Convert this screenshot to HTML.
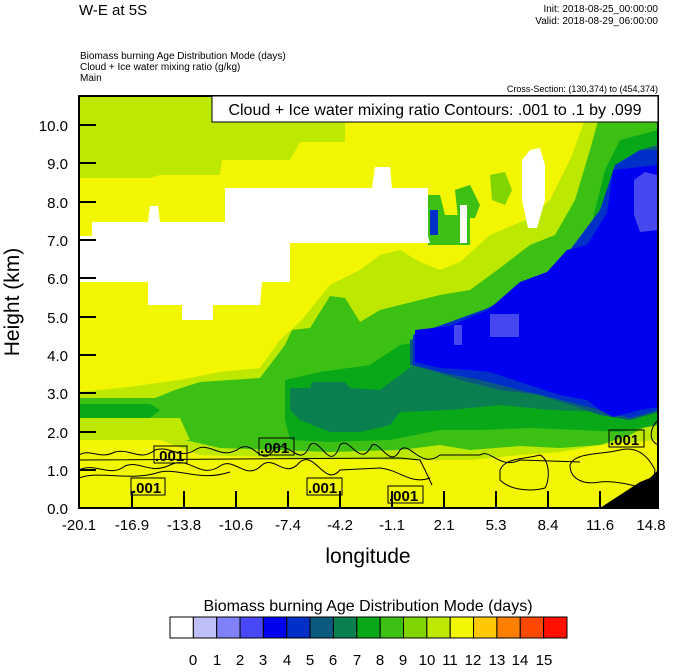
<!DOCTYPE html>
<html><head><meta charset="utf-8"><style>
body{margin:0;background:#fff;}
svg text{font-family:"Liberation Sans",Arial,sans-serif;}
</style></head><body>
<svg width="674" height="667" viewBox="0 0 674 667" xmlns="http://www.w3.org/2000/svg">
<rect width="674" height="667" fill="#fff"/>
<text x="79" y="15" font-size="15">W-E at 5S</text>
<text x="658" y="12" font-size="10" text-anchor="end">Init: 2018-08-25_00:00:00</text>
<text x="658" y="24" font-size="10" text-anchor="end">Valid: 2018-08-29_06:00:00</text>
<text x="80" y="59" font-size="10">Biomass burning Age Distribution Mode    (days)</text>
<text x="80" y="70" font-size="10">Cloud + Ice water mixing ratio    (g/kg)</text>
<text x="80" y="81" font-size="10">Main</text>
<text x="658" y="92" font-size="9" text-anchor="end">Cross-Section: (130,374) to (454,374)</text>

<defs><clipPath id="c"><rect x="79" y="96" width="579" height="412"/></clipPath></defs>
<g clip-path="url(#c)">
<rect x="79" y="96" width="579" height="412" fill="#f2f600"/>
<polygon fill="#bde800" points="79,96 345,96 345,142 300,142 290,160 222,160 220,175 160,175 150,178 79,178"/>
<polygon fill="#bde800" points="79,392 120,388 180,380 220,372 260,368 280,340 300,322 330,285 360,270 380,255 400,250 420,262 440,270 460,262 490,235 530,218 550,200 570,160 585,120 590,96 658,96 658,440 600,445 560,452 520,455 470,460 400,460 300,458 200,455 160,440 79,440"/>
<polygon fill="#3cc014" points="79,398 155,398 175,390 200,382 260,378 285,345 292,330 310,328 330,296 345,298 360,322 380,310 400,305 420,300 440,295 470,290 500,268 530,245 555,235 575,200 590,150 605,96 658,96 658,420 630,435 600,445 560,448 520,446 470,450 440,445 400,450 330,452 220,448 185,440 79,432"/>
<polygon fill="#bde800" points="79,418 180,418 190,440 79,440"/>
<polygon fill="#08a818" points="79,404 150,404 160,410 150,418 79,418"/>
<polygon fill="#08a818" points="285,380 320,372 370,365 400,345 430,340 460,325 500,305 540,290 570,265 590,230 605,170 620,140 658,130 658,425 620,432 580,430 530,428 480,430 440,430 390,440 330,442 290,440 285,420"/>
<polygon fill="#0a8050" points="290,388 310,388 312,382 345,382 350,388 380,390 400,375 420,360 440,350 470,335 510,320 560,300 600,300 658,310 658,400 600,412 550,410 500,405 450,410 400,412 390,425 360,432 330,432 300,420 290,410"/>
<polygon fill="#0a5a80" points="410,340 440,330 480,315 520,295 550,280 575,255 600,215 615,170 640,150 658,145 658,412 630,420 600,415 580,408 540,395 500,390 460,380 430,370 410,365"/>
<polygon fill="#0030c8" points="413,335 450,322 488,308 520,290 548,275 570,250 600,210 615,165 640,150 658,150 658,410 630,418 600,410 570,402 520,390 480,380 440,372 413,365"/>
<polygon fill="#0000f0" points="415,330 450,326 488,310 520,282 547,272 567,250 587,245 607,213 613,170 658,165 658,407 640,410 613,417 600,410 587,400 560,395 520,382 490,372 470,370 440,368 415,362"/>
<polygon fill="#4848f0" points="490,314 519,314 519,337 490,337"/>
<polygon fill="#4848f0" points="634,180 645,172 657,175 658,230 640,232 634,215"/>
<polygon fill="#4848f0" points="454,325 462,325 462,345 454,345"/>
<polygon fill="#3cc014" points="428,195 440,195 445,215 470,215 470,245 428,245"/>
<polygon fill="#0030c8" points="430,210 438,210 438,235 430,235"/>
<polygon fill="#3cc014" points="455,190 470,185 480,205 475,218 458,218"/>
<polygon fill="#80d400" points="490,175 505,172 512,190 505,205 492,200"/>
<polygon fill="#fff" points="79,282 79,236 92,236 92,222 148,222 150,206 158,206 160,222 225,222 225,188 372,188 375,167 390,167 392,188 428,188 428,236 430,243 290,243 290,282 262,282 260,305 213,305 213,320 182,320 182,305 148,305 148,282"/>
<polygon fill="#fff" points="522,160 530,150 540,148 545,165 545,200 537,228 528,228 522,200"/>
<polygon fill="#fff" points="460,205 467,205 467,243 460,243"/>
<polygon fill="#000" points="600,508 620,495 640,482 650,478 658,470 658,508"/>
<g fill="none" stroke="#000" stroke-width="1">
<path d="M79,455 C90,448 100,460 115,452 C130,448 140,462 155,450 C170,445 180,460 195,450 C210,440 220,462 240,448 C255,440 262,470 275,448 C290,440 300,470 310,445 C320,435 330,475 340,445 C350,435 360,470 372,445 C380,440 390,470 400,450 C410,440 420,470 440,455 L480,455 C490,448 500,470 520,460 L580,462"/>
<path d="M79,470 C95,462 110,478 125,466 C140,460 150,475 170,465 C190,455 200,480 220,466 C235,456 245,482 262,465 C275,455 285,480 300,462 C315,450 325,488 340,470 L380,468 C400,470 410,485 430,478"/>
<path d="M79,460 L400,458 L420,460 L425,470 L432,485"/>
<path d="M500,470 C505,458 520,460 540,455 C550,460 550,480 545,488 C530,492 510,490 500,480 Z"/>
<path d="M570,465 C575,452 600,455 620,450 C640,445 650,460 655,470 L652,490 C640,488 620,480 600,482 C585,485 570,480 570,465 Z"/>
<path d="M658,420 C650,428 648,440 658,445"/>
<path d="M79,478 C100,470 130,482 160,472 C180,468 200,482 230,472"/>
</g>
</g>
<g font-size="15" font-weight="bold">
<rect x="131" y="478" width="34" height="17" fill="none" stroke="#000"/><text x="132" y="493">.001</text>
<rect x="154" y="446" width="33" height="17" fill="none" stroke="#000"/><text x="155" y="461">.001</text>
<rect x="259" y="438" width="35" height="17" fill="none" stroke="#000"/><text x="260" y="453">.001</text>
<rect x="307" y="478" width="35" height="17" fill="none" stroke="#000"/><text x="308" y="493">.001</text>
<rect x="388" y="486" width="35" height="17" fill="none" stroke="#000"/><text x="389" y="501">.001</text>
<rect x="609" y="430" width="35" height="17" fill="none" stroke="#000"/><text x="610" y="445">.001</text>
</g>
<rect x="79" y="96" width="579" height="412" fill="none" stroke="#000" stroke-width="2"/>
<rect x="212" y="96" width="446" height="26" fill="#fff" stroke="#000" stroke-width="1"/>
<text x="435" y="115" font-size="16" text-anchor="middle">Cloud + Ice water mixing ratio Contours: .001 to .1 by .099</text>
<g stroke="#000" stroke-width="2">
<line x1="79" y1="470" x2="96" y2="470"/><line x1="79" y1="432" x2="96" y2="432"/><line x1="79" y1="393" x2="96" y2="393"/><line x1="79" y1="355" x2="96" y2="355"/><line x1="79" y1="317" x2="96" y2="317"/><line x1="79" y1="278" x2="96" y2="278"/><line x1="79" y1="240" x2="96" y2="240"/><line x1="79" y1="202" x2="96" y2="202"/><line x1="79" y1="163" x2="96" y2="163"/><line x1="79" y1="125" x2="96" y2="125"/>
<line x1="132" y1="508" x2="132" y2="491"/><line x1="184" y1="508" x2="184" y2="491"/><line x1="236" y1="508" x2="236" y2="491"/><line x1="288" y1="508" x2="288" y2="491"/><line x1="340" y1="508" x2="340" y2="491"/><line x1="392" y1="508" x2="392" y2="491"/><line x1="444" y1="508" x2="444" y2="491"/><line x1="496" y1="508" x2="496" y2="491"/><line x1="548" y1="508" x2="548" y2="491"/><line x1="600" y1="508" x2="600" y2="491"/>
</g>
<g font-size="15" text-anchor="end">
<text x="68" y="514">0.0</text><text x="68" y="476">1.0</text><text x="68" y="438">2.0</text><text x="68" y="399">3.0</text><text x="68" y="361">4.0</text><text x="68" y="323">5.0</text><text x="68" y="284">6.0</text><text x="68" y="246">7.0</text><text x="68" y="208">8.0</text><text x="68" y="169">9.0</text><text x="68" y="131">10.0</text>
</g>
<g font-size="15" text-anchor="middle">
<text x="79" y="530">-20.1</text><text x="132" y="530">-16.9</text><text x="184" y="530">-13.8</text><text x="236" y="530">-10.6</text><text x="288" y="530">-7.4</text><text x="340" y="530">-4.2</text><text x="392" y="530">-1.1</text><text x="444" y="530">2.1</text><text x="496" y="530">5.3</text><text x="548" y="530">8.4</text><text x="600" y="530">11.6</text><text x="651" y="530">14.8</text>
</g>
<text x="368" y="563" font-size="21" text-anchor="middle">longitude</text>
<text transform="translate(19,302) rotate(-90)" font-size="21" text-anchor="middle">Height (km)</text>
<text x="368" y="611" font-size="16" text-anchor="middle">Biomass burning Age Distribution Mode  (days)</text>
<g stroke="#000" stroke-width="1">
<rect x="170" y="617" width="23.35" height="21" fill="#fff"/>
<rect x="193.35" y="617" width="23.35" height="21" fill="#c0c0f8"/>
<rect x="216.7" y="617" width="23.35" height="21" fill="#8080f8"/>
<rect x="240.05" y="617" width="23.35" height="21" fill="#4848f8"/>
<rect x="263.4" y="617" width="23.35" height="21" fill="#0000f0"/>
<rect x="286.75" y="617" width="23.35" height="21" fill="#0030c8"/>
<rect x="310.1" y="617" width="23.35" height="21" fill="#0a5a80"/>
<rect x="333.45" y="617" width="23.35" height="21" fill="#0a8050"/>
<rect x="356.8" y="617" width="23.35" height="21" fill="#08a818"/>
<rect x="380.15" y="617" width="23.35" height="21" fill="#3cc014"/>
<rect x="403.5" y="617" width="23.35" height="21" fill="#80d400"/>
<rect x="426.85" y="617" width="23.35" height="21" fill="#bde800"/>
<rect x="450.2" y="617" width="23.35" height="21" fill="#f2f600"/>
<rect x="473.55" y="617" width="23.35" height="21" fill="#ffc800"/>
<rect x="496.9" y="617" width="23.35" height="21" fill="#ff8000"/>
<rect x="520.25" y="617" width="23.35" height="21" fill="#ff4800"/>
<rect x="543.6" y="617" width="23.4" height="21" fill="#ff1000"/>
</g>
<g font-size="15" text-anchor="middle">
<text x="193" y="665">0</text><text x="217" y="665">1</text><text x="240" y="665">2</text><text x="263" y="665">3</text><text x="287" y="665">4</text><text x="310" y="665">5</text><text x="333" y="665">6</text><text x="357" y="665">7</text><text x="380" y="665">8</text><text x="403" y="665">9</text><text x="427" y="665">10</text><text x="450" y="665">11</text><text x="473" y="665">12</text><text x="497" y="665">13</text><text x="520" y="665">14</text><text x="544" y="665">15</text>
</g>
</svg>
</body></html>
